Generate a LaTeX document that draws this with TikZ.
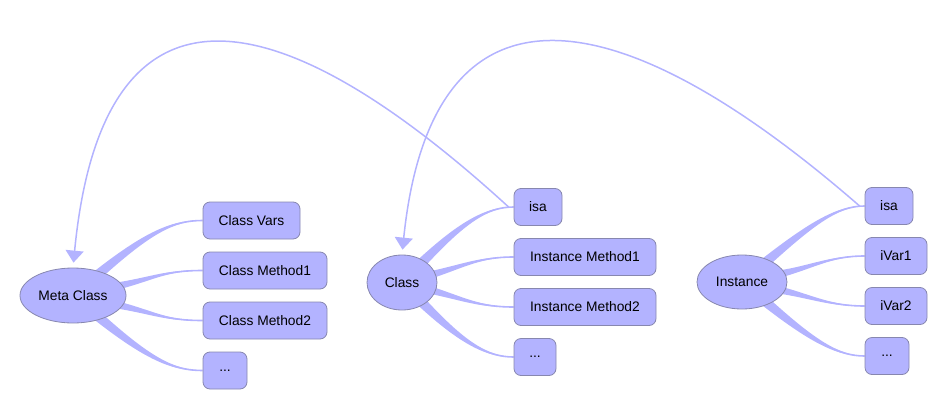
\documentclass[tikz,border=0pt]{standalone}
\usepackage{fontspec}
\setmainfont{Liberation Sans}
\usetikzlibrary{calc,arrows.meta,shapes.geometric}
\pgfdeclarelayer{bg}
\pgfsetlayers{bg,main}
\definecolor{lav}{RGB}{179,179,255}
\definecolor{edgegray}{RGB}{135,135,175}
\tikzset{
  box/.style={draw=edgegray, fill=lav, line width=0.8pt, rounded corners=7pt,
    minimum height=37pt, inner sep=0pt, font=\fontsize{13.8}{16}\selectfont},
  oval/.style={draw=edgegray, fill=lav, line width=0.8pt, ellipse, inner sep=0pt,
    font=\fontsize{13.8}{16}\selectfont},
  conn/.style={fill=lav},
  connline/.style={draw=lav, line width=1.6pt},
  isaarc/.style={draw=lav, line width=1.5pt, -{Triangle[width=18pt,length=12pt]}, shorten >=5pt}
}
% #1 ellipse node, #2 angle, #3 target node, #4 len1, #5 len2, #6 half width
\newcommand\taperconn[6]{%
  \coordinate (tS) at ($(#1.center)!0.9!(#1.#2)$);
  \coordinate (tE) at (#3.west);
  \fill[conn] ($(tS)+({#2+90}:#6)$) .. controls ($(tS)+(#2:#4)+({#2+90}:#6/2)$) and ($(tE)+(-#5,0.8)$) .. (tE)
     .. controls ($(tE)+(-#5,-0.8)$) and ($(tS)+(#2:#4)+({#2-90}:#6/2)$) .. ($(tS)+({#2-90}:#6)$) -- cycle;
  \draw[connline] (tS) .. controls ($(tS)+(#2:#4)$) and ($(tE)+(-#5,0)$) .. (tE);
}
\begin{document}
\begin{tikzpicture}[x=1pt,y=1pt]
\useasboundingbox (0,0) rectangle (948,-410);
% nodes
\node[oval, minimum width=106pt, minimum height=55pt] (meta) at (73,-295.5) {Meta Class};
\node[oval, minimum width=70pt, minimum height=55pt] (cls) at (402,-282.5) {Class};
\node[oval, minimum width=90pt, minimum height=54pt] (inst) at (742,-282) {Instance};

\node[box, minimum width=97pt] (cv) at (251.5,-220.5) {Class Vars};
\node[box, minimum width=124pt] (cm1) at (265,-270.5) {Class Method1};
\node[box, minimum width=124pt] (cm2) at (265,-320.5) {Class Method2};
\node[box, minimum width=44pt] (cdots) at (225,-370.5) {...};

\node[box, minimum width=48pt] (isa1) at (538,-207) {isa};
\node[box, minimum width=142pt] (im1) at (585,-257) {Instance Method1};
\node[box, minimum width=142pt] (im2) at (585,-307) {Instance Method2};
\node[box, minimum width=42pt] (idots) at (535,-357) {...};

\node[box, minimum width=48pt] (isa2) at (889,-206) {isa};
\node[box, minimum width=62pt] (iv1) at (896,-256) {iVar1};
\node[box, minimum width=62pt] (iv2) at (896,-306) {iVar2};
\node[box, minimum width=44pt] (ivdots) at (887,-356) {...};

% tapered connectors (behind nodes)
\begin{pgfonlayer}{bg}
\taperconn{meta}{40}{cv}{68}{28}{4.8}
\taperconn{meta}{12}{cm1}{38}{38}{3.6}
\taperconn{meta}{-12}{cm2}{38}{38}{3.6}
\taperconn{meta}{-40}{cdots}{68}{28}{4.8}

\taperconn{cls}{45}{isa1}{58}{26}{4.8}
\taperconn{cls}{15}{im1}{32}{34}{3.6}
\taperconn{cls}{-15}{im2}{32}{34}{3.6}
\taperconn{cls}{-45}{idots}{58}{26}{4.8}

\taperconn{inst}{40}{isa2}{62}{26}{4.8}
\taperconn{inst}{12}{iv1}{32}{34}{3.6}
\taperconn{inst}{-12}{iv2}{32}{34}{3.6}
\taperconn{inst}{-40}{ivdots}{62}{26}{4.8}
\end{pgfonlayer}

% isa arcs
\draw[isaarc] ($(isa1.west)+(-5,0)$) .. controls +(-258,236) and +(27,280) .. (meta.north);
\draw[isaarc] ($(isa2.west)+(-5,0)$) .. controls +(-262,228) and +(28,272) .. (cls.north);
\end{tikzpicture}
\end{document}
